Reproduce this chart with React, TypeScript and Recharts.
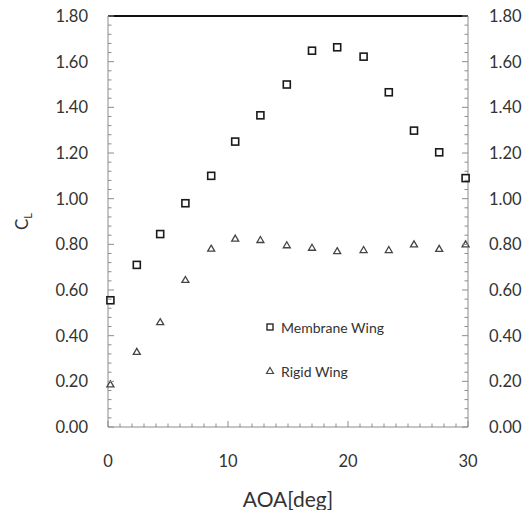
import React from 'react';
import { ScatterChart, Scatter, XAxis, YAxis, ReferenceLine, Legend } from 'recharts';

// angle of attack (deg)
const aoa = [0.2, 2.4, 4.35, 6.45, 8.6, 10.6, 12.7, 14.9, 17.0, 19.1, 21.3, 23.4, 25.5, 27.6, 29.8];
const membraneCl = [0.555, 0.71, 0.845, 0.98, 1.1, 1.25, 1.365, 1.5, 1.648, 1.663, 1.622, 1.466, 1.298, 1.203, 1.09];
const rigidCl = [0.187, 0.329, 0.459, 0.644, 0.781, 0.825, 0.819, 0.796, 0.785, 0.77, 0.775, 0.775, 0.8, 0.78, 0.8];

const xMajorTicks = [0, 10, 20, 30];
const yMajorTicks = [0, 0.2, 0.4, 0.6, 0.8, 1.0, 1.2, 1.4, 1.6, 1.8];
const xTicks = Array.from({ length: 31 }, (_, i) => i);
const yTicks = Array.from({ length: 46 }, (_, i) => +(i * 0.04).toFixed(2));

const membraneData = aoa.map((x, i) => ({ x, y: membraneCl[i] }));
const rigidData = aoa.map((x, i) => ({ x, y: rigidCl[i] }));

const AXIS = '#8c8c8c';
const TEXT = '#333';
const FONT = 'Lato, sans-serif';
const GAP_L = 20;
const GAP_R = 21;
const GAP_X = 34;

const isMajor = (v: number, list: number[]) => list.some(t => Math.abs(t - v) < 1e-6);

const LeftTick = (p: any) => {
  const v = p.payload.value;
  const major = isMajor(v, yMajorTicks);
  const ax = p.x + GAP_L;
  return (
    <g>
      <line x1={ax} x2={ax + (major ? 6 : 3.5)} y1={p.y} y2={p.y} stroke={AXIS} />
      {major && (
        <text x={p.x} y={p.y} dy="0.36em" textAnchor="end" fill={TEXT} fontSize={16.5} fontFamily={FONT}>
          {v.toFixed(2)}
        </text>
      )}
    </g>
  );
};

const RightTick = (p: any) => {
  const v = p.payload.value;
  const major = isMajor(v, yMajorTicks);
  const ax = p.x - GAP_R;
  return (
    <g>
      <line x1={ax} x2={ax - (major ? 6 : 3.5)} y1={p.y} y2={p.y} stroke={AXIS} />
      {major && (
        <text x={p.x} y={p.y} dy="0.36em" textAnchor="start" fill={TEXT} fontSize={16.5} fontFamily={FONT}>
          {v.toFixed(2)}
        </text>
      )}
    </g>
  );
};

const BottomTick = (p: any) => {
  const v = p.payload.value;
  const major = isMajor(v, xMajorTicks);
  const ay = p.y - GAP_X;
  return (
    <g>
      <line x1={p.x} x2={p.x} y1={ay} y2={ay - (major ? 6 : 3.5)} stroke={AXIS} />
      {major && (
        <text x={p.x} y={p.y} dy="0.36em" textAnchor="middle" fill={TEXT} fontSize={16.5} fontFamily={FONT}>
          {v}
        </text>
      )}
    </g>
  );
};

const Square = (p: any) => (
  <rect x={p.cx - 3.5} y={p.cy - 3.5} width={7} height={7} fill="#fff" stroke="#1a1a1a" strokeWidth={1.6} />
);

const Triangle = (p: any) => (
  <polygon
    points={`${p.cx},${p.cy - 3.5} ${p.cx + 3.5},${p.cy + 2.5} ${p.cx - 3.5},${p.cy + 2.5}`}
    fill="#fff"
    stroke="#444"
    strokeWidth={1.3}
  />
);

const legendItems = [
  { name: 'Membrane Wing', icon: 'square' },
  { name: 'Rigid Wing', icon: 'triangle' },
];

const LegendBox = () => (
  <div style={{ fontFamily: FONT, fontSize: 14, color: TEXT }}>
    {legendItems.map(item => (
      <div key={item.name} style={{ display: 'flex', alignItems: 'center', height: 44 }}>
        <svg width={10} height={10} style={{ marginRight: 6 }}>
          {item.icon === 'square' ? (
            <rect x={2} y={2} width={6} height={6} fill="#fff" stroke="#1a1a1a" strokeWidth={1.3} />
          ) : (
            <polygon points="5,1.5 8.5,7.5 1.5,7.5" fill="#fff" stroke="#444" strokeWidth={1.2} />
          )}
        </svg>
        <span>{item.name}</span>
      </div>
    ))}
  </div>
);

const YLabel = ({ viewBox }: any) => {
  const cx = viewBox.x + 22;
  const cy = viewBox.y + viewBox.height / 2;
  return (
    <text transform={`translate(${cx},${cy}) rotate(-90)`} textAnchor="middle" dy="0.36em" fill={TEXT} fontFamily={FONT} fontSize={17}>
      C<tspan fontSize={11} dy="0.35em">L</tspan>
    </text>
  );
};

const XLabel = ({ viewBox }: any) => (
  <text x={viewBox.x + viewBox.width / 2} y={viewBox.y + 80} textAnchor="middle" fill={TEXT} fontFamily={FONT} fontSize={21}>
    AOA[deg]
  </text>
);

export default function App() {
  return (
    <div style={{ position: 'absolute', left: 0, top: 0, width: 526, height: 510, background: '#fff' }}>
      <ScatterChart width={526} height={510} margin={{ top: 16, right: 0, bottom: 0, left: 0 }}>
        <XAxis
          type="number"
          dataKey="x"
          domain={[0, 30]}
          ticks={xTicks}
          interval={0}
          height={83}
          tickSize={0}
          tickMargin={GAP_X}
          tickLine={false}
          tick={<BottomTick />}
          axisLine={{ stroke: AXIS }}
          label={XLabel}
        />
        <YAxis
          yAxisId="left"
          type="number"
          dataKey="y"
          domain={[0, 1.8]}
          ticks={yTicks}
          interval={0}
          width={108}
          tickSize={0}
          tickMargin={GAP_L}
          tickLine={false}
          tick={<LeftTick />}
          axisLine={{ stroke: AXIS }}
          label={YLabel}
        />
        <YAxis
          yAxisId="right"
          orientation="right"
          type="number"
          dataKey="y"
          domain={[0, 1.8]}
          ticks={yTicks}
          interval={0}
          width={58}
          tickSize={0}
          tickMargin={GAP_R}
          tickLine={false}
          tick={<RightTick />}
          axisLine={{ stroke: AXIS }}
        />
        <ReferenceLine yAxisId="left" y={1.8} stroke="#111" strokeWidth={2} />
        <Legend
          layout="vertical"
          align="center"
          verticalAlign="middle"
          content={<LegendBox />}
          wrapperStyle={{ left: 265, top: 305, width: 'auto' }}
        />
        <Scatter name="Membrane Wing" yAxisId="left" data={membraneData} shape={Square} isAnimationActive={false} />
        {/* same 0–1.8 domain on both sides, so the rigid series can drive the right axis */}
        <Scatter name="Rigid Wing" yAxisId="right" data={rigidData} shape={Triangle} isAnimationActive={false} />
      </ScatterChart>
    </div>
  );
}
